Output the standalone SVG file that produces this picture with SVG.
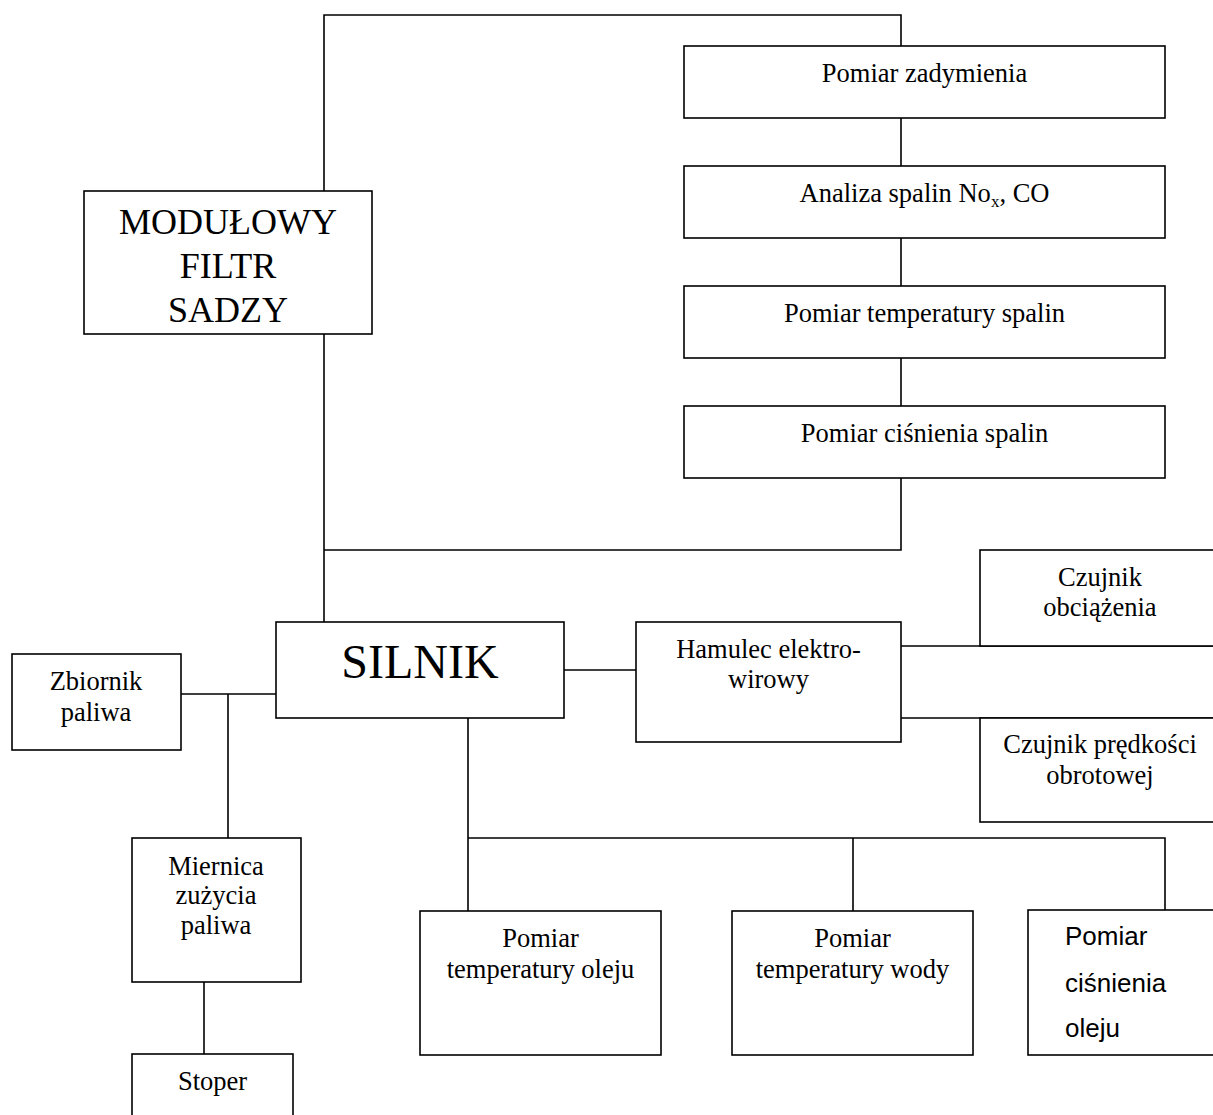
<svg xmlns="http://www.w3.org/2000/svg" width="1213" height="1115" viewBox="0 0 1213 1115">
<style>
.box{fill:#fff;stroke:#000;stroke-width:1.6}
.ln{fill:none;stroke:#000;stroke-width:1.6}
.t{font-family:"Liberation Serif","Times New Roman",serif;font-size:26.5px;fill:#000;text-anchor:middle}
.big{font-size:36px}
.huge{font-size:48px}
.a{font-family:"Liberation Sans",Arial,sans-serif;font-size:26px;fill:#000}
</style>
<rect width="1213" height="1115" fill="#fff"/>
<g id="connectors">
<path class="ln" d="M324,191 V15 H901 V46"/>
<path class="ln" d="M901,118 V166 M901,238 V286 M901,358 V406"/>
<path class="ln" d="M901,478 V550 H324"/>
<path class="ln" d="M324,334 V622"/>
<path class="ln" d="M181,694 H276 M228,694 V838"/>
<path class="ln" d="M204,982 V1054"/>
<path class="ln" d="M564,670 H636"/>
<path class="ln" d="M901,646 H1213 M901,718 H1213"/>
<path class="ln" d="M468,718 V911 M468,838 H1165 V910 M853,838 V911"/>
</g>
<g id="filtr">
<rect class="box" x="84" y="191" width="288" height="143"/>
<text class="t big" x="228" y="234">MODUŁOWY</text>
<text class="t big" x="228" y="278">FILTR</text>
<text class="t big" x="228" y="322">SADZY</text>
</g>
<g id="zadymienie">
<rect class="box" x="684" y="46" width="481" height="72"/>
<text class="t" x="924.5" y="82">Pomiar zadymienia</text>
</g>
<g id="analiza">
<rect class="box" x="684" y="166" width="481" height="72"/>
<text class="t" x="924.5" y="202">Analiza spalin No<tspan font-size="17" dy="5">x</tspan><tspan dy="-5">, CO</tspan></text>
</g>
<g id="temp-spalin">
<rect class="box" x="684" y="286" width="481" height="72"/>
<text class="t" x="924.5" y="322">Pomiar temperatury spalin</text>
</g>
<g id="cisn-spalin">
<rect class="box" x="684" y="406" width="481" height="72"/>
<text class="t" x="924.5" y="442">Pomiar ciśnienia spalin</text>
</g>
<g id="silnik">
<rect class="box" x="276" y="622" width="288" height="96"/>
<text class="t huge" x="420" y="678">SILNIK</text>
</g>
<g id="zbiornik">
<rect class="box" x="12" y="654" width="169" height="96"/>
<text class="t" x="96" y="690">Zbiornik</text>
<text class="t" x="96" y="721">paliwa</text>
</g>
<g id="hamulec">
<rect class="box" x="636" y="622" width="265" height="120"/>
<text class="t" x="768.5" y="658">Hamulec elektro-</text>
<text class="t" x="768.5" y="688">wirowy</text>
</g>
<g id="czujnik-obc">
<rect class="box" x="980" y="550" width="250" height="96"/>
<text class="t" x="1100" y="585.5">Czujnik</text>
<text class="t" x="1100" y="616">obciążenia</text>
</g>
<g id="czujnik-pred">
<rect class="box" x="980" y="718" width="250" height="104"/>
<text class="t" x="1100" y="753">Czujnik prędkości</text>
<text class="t" x="1100" y="784">obrotowej</text>
</g>
<g id="miernica">
<rect class="box" x="132" y="838" width="169" height="144"/>
<text class="t" x="216" y="874.5">Miernica</text>
<text class="t" x="216" y="904">zużycia</text>
<text class="t" x="216" y="934">paliwa</text>
</g>
<g id="stoper">
<rect class="box" x="132" y="1054" width="161" height="80"/>
<text class="t" x="212.5" y="1090">Stoper</text>
</g>
<g id="temp-oleju">
<rect class="box" x="420" y="911" width="241" height="144"/>
<text class="t" x="540.5" y="946.5">Pomiar</text>
<text class="t" x="540.5" y="977.5">temperatury oleju</text>
</g>
<g id="temp-wody">
<rect class="box" x="732" y="911" width="241" height="144"/>
<text class="t" x="852.5" y="946.5">Pomiar</text>
<text class="t" x="852.5" y="977.5">temperatury wody</text>
</g>
<g id="cisn-oleju">
<rect class="box" x="1028" y="910" width="200" height="145"/>
<text class="a" x="1065" y="945">Pomiar</text>
<text class="a" x="1065" y="991.5">ciśnienia</text>
<text class="a" x="1065" y="1036.5">oleju</text>
</g>
</svg>
